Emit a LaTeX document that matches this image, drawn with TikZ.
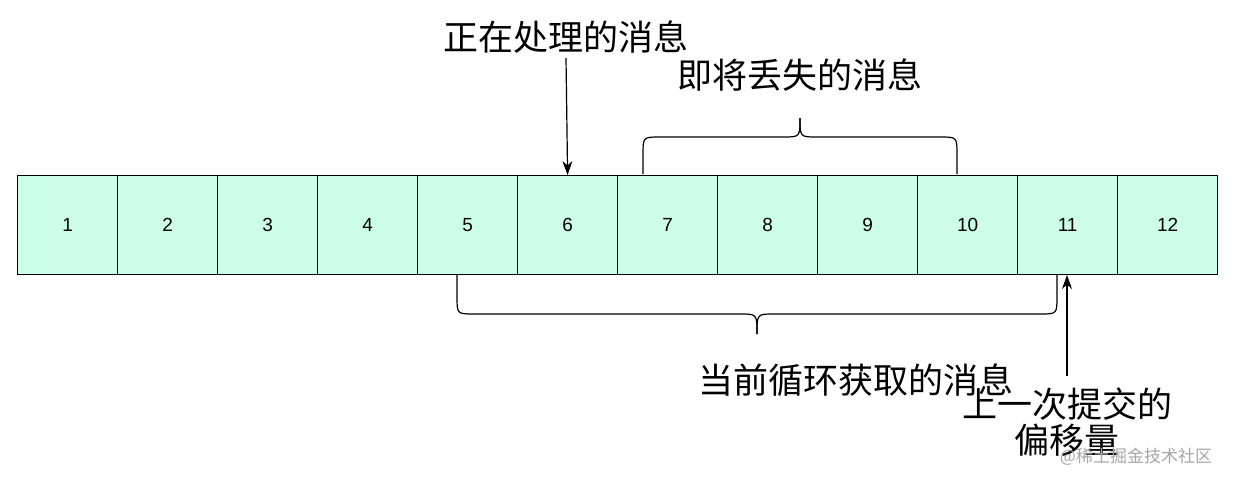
\documentclass[tikz,border=0pt]{standalone}
\usepackage{fontspec}
\setmainfont{Liberation Sans}
\newfontfamily\cjk{Noto Sans CJK SC}
\usetikzlibrary{arrows.meta}
\tikzset{cell/.style={draw=black,line width=1.2pt,fill={rgb,255:red,204;green,255;blue,230},minimum width=100pt,minimum height=99pt,inner sep=0pt,font=\fontsize{19}{19}\selectfont,anchor=north west},
lbl/.style={font=\cjk\fontsize{35}{36}\selectfont,inner sep=0pt,align=center},
arr/.style={line width=1.2pt,-{Stealth[length=14pt,width=10pt]}},
brace/.style={line width=1.2pt}}
\begin{document}
\begin{tikzpicture}[x=1pt,y=-1pt]
\useasboundingbox[fill=white] (0,0) rectangle (1234,483);
\foreach \i in {1,...,12}{
  \node[cell] (b\i) at ({17+100*(\i-1)},175) {\i};
}
\node[lbl] (t1) at (566,37) {正在处理的消息};
\draw[arr] (566,58) -- (b6.north);
\node[lbl] (t2) at (800,75) {即将丢失的消息};
\draw[brace] (643,174) -- (643,155) .. controls (643,137) .. (660,137) -- (783,137) .. controls (800,137) .. (800,118);
\draw[brace] (957,174) -- (957,155) .. controls (957,137) .. (940,137) -- (817,137) .. controls (800,137) .. (800,118);
\node[lbl] (t3) at (856,380) {当前循环获取的消息};
\draw[brace] (457,275) -- (457,296) .. controls (457,314) .. (474,314) -- (740,314) .. controls (757,314) .. (757,334);
\draw[brace] (1057,275) -- (1057,296) .. controls (1057,314) .. (1040,314) -- (774,314) .. controls (757,314) .. (757,334);
\coordinate (c11) at (1067,275);
\coordinate (s11) at (1067,376);
\draw[arr] (s11) -- (c11);
\node[lbl] (t4) at (1067,422) {上一次提交的\\偏移量};
\node[font=\cjk\fontsize{17}{17}\selectfont,text=black!35,inner sep=0pt] (wm) at (1136,457) {@稀土掘金技术社区};
\end{tikzpicture}
\end{document}
